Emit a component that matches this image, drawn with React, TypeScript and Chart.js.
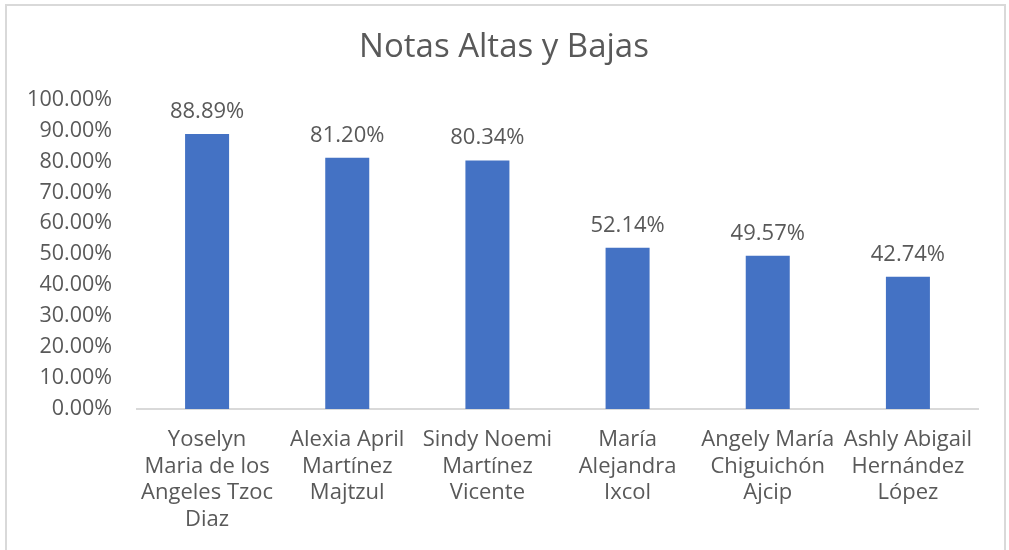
import React, { useEffect, useRef } from "react";
import { Chart, registerables } from "chart.js";

Chart.register(...registerables);

const TITLE = "Notas Altas y Bajas";
const categories: string[][] = [
  ["Yoselyn", "Maria de los", "Angeles Tzoc", "Diaz"],
  ["Alexia April", "Martínez", "Majtzul"],
  ["Sindy Noemi", "Martínez", "Vicente"],
  ["María", "Alejandra", "Ixcol"],
  ["Angely María", "Chiguichón", "Ajcip"],
  ["Ashly Abigail", "Hernández", "López"],
];
const values: number[] = [0.8889, 0.812, 0.8034, 0.5214, 0.4957, 0.4274];
const yTicks: number[] = [0, 0.1, 0.2, 0.3, 0.4, 0.5, 0.6, 0.7, 0.8, 0.9, 1.0];

const TEXT = "#595959";
const FONT = "'Open Sans', 'Noto Sans', sans-serif";

const fmt = (v: number) => (v * 100).toFixed(2) + "%";

const dataLabels = {
  id: "dataLabels",
  afterDatasetsDraw(chart: any) {
    const ctx = chart.ctx;
    const meta = chart.getDatasetMeta(0);
    ctx.save();
    ctx.fillStyle = TEXT;
    ctx.font = `22px ${FONT}`;
    ctx.textAlign = "center";
    ctx.textBaseline = "alphabetic";
    meta.data.forEach((bar: any, i: number) => {
      ctx.fillText(fmt(values[i]), bar.x, bar.y - 16);
    });
    ctx.restore();
  },
};

export default function App() {
  const ref = useRef<HTMLCanvasElement | null>(null);
  useEffect(() => {
    document.body.style.margin = "0";
    const chart = new Chart(ref.current!, {
      type: "bar",
      data: {
        labels: categories,
        datasets: [
          {
            data: values,
            backgroundColor: "#4472C4",
            categoryPercentage: 1,
            barPercentage: 0.314,
          },
        ],
      },
      options: {
        animation: false,
        responsive: false,
        layout: { padding: { left: 22, right: 23, top: 0, bottom: 0 } },
        plugins: {
          legend: { display: false },
          tooltip: { enabled: false },
          title: {
            display: true,
            text: TITLE,
            color: TEXT,
            font: { family: FONT, size: 33, weight: "normal", lineHeight: 1.2 },
            padding: { top: 28, bottom: 32 },
          },
        },
        scales: {
          y: {
            min: 0,
            max: 1,
            afterFit: (s: any) => {
              s.width = 115;
            },
            afterBuildTicks: (s: any) => {
              s.ticks = yTicks.map((v) => ({ value: v }));
            },
            ticks: {
              color: TEXT,
              font: { family: FONT, size: 21.5 },
              padding: 25,
              callback: (v: any) => fmt(Number(v)),
            },
            grid: { display: false, drawTicks: false },
            border: { display: false },
          },
          yRightSpacer: {
            type: "linear",
            position: "right",
            display: true,
            afterFit: (s: any) => {
              s.width = 8;
            },
            ticks: { display: false },
            grid: { display: false, drawTicks: false },
            border: { display: false },
          },
          x: {
            afterFit: (s: any) => {
              s.height = 141;
            },
            ticks: {
              color: TEXT,
              font: { family: FONT, size: 22, lineHeight: 1.2 },
              padding: 18,
              maxRotation: 0,
              autoSkip: false,
            },
            grid: { display: false, drawTicks: false },
            border: { display: true, color: "#d9d9d9", width: 2 },
          },
        },
      },
      plugins: [dataLabels],
    });
    return () => chart.destroy();
  }, []);
  return (
    <div style={{ position: "relative", width: 1009, height: 550, overflow: "hidden", background: "#fff" }}>
      <div
        style={{
          position: "absolute",
          left: 5,
          top: 4,
          width: 1001,
          height: 600,
          border: "2px solid #d9d9d9",
          boxSizing: "border-box",
        }}
      />
      <canvas ref={ref} width={1009} height={550} style={{ position: "absolute", left: 0, top: 0 }} />
    </div>
  );
}
